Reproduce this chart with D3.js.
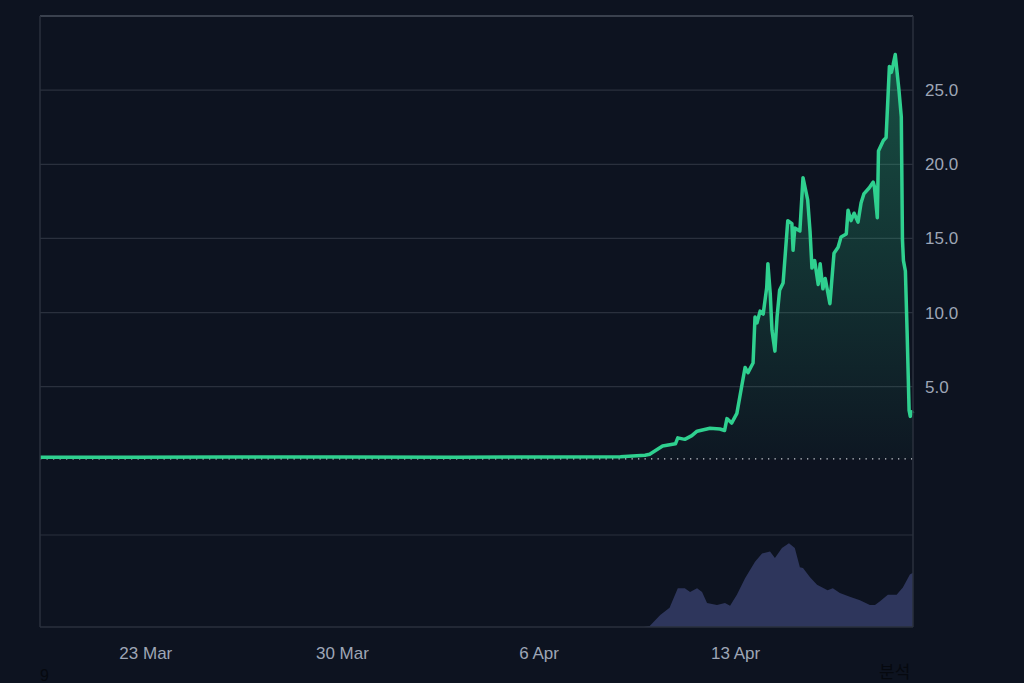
<!DOCTYPE html>
<html>
<head>
<meta charset="utf-8">
<script src="https://cdn.jsdelivr.net/npm/d3@7"></script>
<style>
  html, body { margin: 0; padding: 0; background: #0d1320; }
  svg { display: block; }
  .tick text { fill: #9ea6b6; font-family: "Liberation Sans", Arial, sans-serif; font-size: 17px; }
</style>
</head>
<body>
<script>
"use strict";

// price series (time in UTC, value)
var priceTimes = [
    "2025-03-19T06:00", "2025-03-22T12:00", "2025-03-26T00:00", "2025-03-30T00:00",
    "2025-04-03T00:00", "2025-04-06T12:00", "2025-04-08T22:00", "2025-04-09T19:00",
    "2025-04-09T23:00", "2025-04-10T10:00", "2025-04-10T21:00", "2025-04-10T23:00",
    "2025-04-11T05:00", "2025-04-11T11:00", "2025-04-11T15:30", "2025-04-12T02:30",
    "2025-04-12T11:00", "2025-04-12T15:00", "2025-04-12T17:00", "2025-04-12T21:00",
    "2025-04-13T01:30", "2025-04-13T06:00", "2025-04-13T08:30", "2025-04-13T11:00",
    "2025-04-13T15:20", "2025-04-13T17:00", "2025-04-13T18:40", "2025-04-13T21:20",
    "2025-04-14T00:00", "2025-04-14T03:00", "2025-04-14T04:00", "2025-04-14T06:00",
    "2025-04-14T07:30", "2025-04-14T10:00", "2025-04-14T11:50", "2025-04-14T14:00",
    "2025-04-14T17:00", "2025-04-14T21:00", "2025-04-15T00:30", "2025-04-15T01:30",
    "2025-04-15T03:00", "2025-04-15T07:20", "2025-04-15T10:00", "2025-04-15T14:00",
    "2025-04-15T16:00", "2025-04-15T17:40", "2025-04-15T20:00", "2025-04-15T23:00",
    "2025-04-16T00:40", "2025-04-16T03:00", "2025-04-16T05:00", "2025-04-16T09:00",
    "2025-04-16T12:30", "2025-04-16T16:00", "2025-04-16T18:30", "2025-04-16T23:00",
    "2025-04-17T00:30", "2025-04-17T03:00", "2025-04-17T05:40", "2025-04-17T09:00",
    "2025-04-17T11:40", "2025-04-17T14:00", "2025-04-17T18:30", "2025-04-17T22:00",
    "2025-04-17T23:00", "2025-04-18T01:30", "2025-04-18T02:30", "2025-04-18T06:40",
    "2025-04-18T09:00", "2025-04-18T11:50", "2025-04-18T13:30", "2025-04-18T15:00",
    "2025-04-18T16:50", "2025-04-18T19:20", "2025-04-18T20:00", "2025-04-18T22:00",
    "2025-04-18T23:00", "2025-04-18T23:50", "2025-04-19T01:30", "2025-04-19T03:00",
    "2025-04-19T04:40", "2025-04-19T05:40", "2025-04-19T07:00", "2025-04-19T08:00"
];
var priceValues = [
    0.24, 0.25, 0.26, 0.26,
    0.25, 0.26, 0.28, 0.38,
    0.45, 1.0, 1.15, 1.55,
    1.45, 1.7, 2.0, 2.2,
    2.15, 2.05, 2.85, 2.55,
    3.2, 5.2, 6.3, 5.95,
    6.6, 9.7, 9.3, 10.1,
    9.9, 11.7, 13.3, 11.3,
    8.8, 7.4, 9.7, 11.5,
    12.0, 16.2, 16.0, 14.2,
    15.7, 15.5, 19.1, 17.6,
    15.5, 13.0, 13.5, 11.9,
    13.3, 11.6, 12.3, 10.6,
    14.0, 14.4, 15.1, 15.3,
    16.9, 16.2, 16.7, 16.1,
    17.4, 18.0, 18.4, 18.8,
    18.5, 16.4, 20.9, 21.6,
    21.8, 26.6, 26.2, 26.7,
    27.4, 25.5, 25.0, 23.2,
    14.9, 13.5, 12.8, 8.6,
    3.4, 3.0, 3.3, 3.2
];

// volume series (relative units)
var volumeTimes = [
    "2025-03-19T06:00", "2025-04-09T18:00", "2025-04-09T23:00", "2025-04-10T08:00",
    "2025-04-10T16:00", "2025-04-10T23:00", "2025-04-11T05:00", "2025-04-11T09:30",
    "2025-04-11T15:30", "2025-04-11T19:45", "2025-04-12T00:00", "2025-04-12T08:30",
    "2025-04-12T15:20", "2025-04-12T19:40", "2025-04-13T01:30", "2025-04-13T08:30",
    "2025-04-13T17:00", "2025-04-13T23:00", "2025-04-14T05:50", "2025-04-14T10:00",
    "2025-04-14T16:00", "2025-04-14T22:00", "2025-04-15T03:00", "2025-04-15T07:20",
    "2025-04-15T10:00", "2025-04-15T16:00", "2025-04-15T22:00", "2025-04-16T07:00",
    "2025-04-16T11:30", "2025-04-16T17:30", "2025-04-17T02:00", "2025-04-17T10:40",
    "2025-04-17T19:10", "2025-04-17T23:30", "2025-04-18T03:50", "2025-04-18T10:30",
    "2025-04-18T18:00", "2025-04-18T23:20", "2025-04-19T05:20", "2025-04-19T08:00"
];
var volumeValues = [
    0, 0, 1, 13,
    21, 42, 42, 38,
    42, 38, 26, 24,
    26, 23, 35, 53,
    71, 80, 82, 75,
    86, 91, 86, 65,
    64, 54, 46, 40,
    42, 37, 33, 29,
    24, 24, 28, 35,
    35, 43, 57, 59
];

var priceTicks = [5, 10, 15, 20, 25];
var gridValues = [-5, 5, 10, 15, 20, 25];
var dateTicks = ["2025-03-23T00:00", "2025-03-30T00:00", "2025-04-06T00:00", "2025-04-13T00:00"];
var baseValue = 0.13;

(function() {
    var W = 1024, H = 683;
    var mLeft = 40, mRight = 913, mTop = 16, priceBottom = 535, mBottom = 627;

    var parseTime = d3.utcParse("%Y-%m-%dT%H:%M");
    var price = priceTimes.map(function(t, i) { return {date: parseTime(t), value: priceValues[i]}; });
    var volume = volumeTimes.map(function(t, i) { return {date: parseTime(t), value: volumeValues[i]}; });

    var x = d3.scaleUtc()
        .domain([parseTime("2025-03-19T06:00"), parseTime("2025-04-19T08:00")])
        .range([mLeft, mRight]);
    var y = d3.scaleLinear().domain([-5, 30]).range([priceBottom, mTop]);
    var vy = d3.scaleLinear().domain([0, 100]).range([mBottom, priceBottom]);

    var svg = d3.select("body").append("svg")
        .attr("width", W)
        .attr("height", H);

    svg.append("rect").attr("width", W).attr("height", H).attr("fill", "#0d1320");

    var grad = svg.append("defs").append("linearGradient")
        .attr("id", "priceFill")
        .attr("gradientUnits", "userSpaceOnUse")
        .attr("x1", 0).attr("x2", 0)
        .attr("y1", y(27)).attr("y2", y(0));
    grad.append("stop").attr("offset", "0%").attr("stop-color", "#2fd08f").attr("stop-opacity", 0.32);
    grad.append("stop").attr("offset", "100%").attr("stop-color", "#2fd08f").attr("stop-opacity", 0.02);

    // grid
    svg.append("g")
        .selectAll("line")
        .data(gridValues)
        .enter().append("line")
        .attr("x1", mLeft).attr("x2", mRight)
        .attr("y1", function(d) { return y(d); })
        .attr("y2", function(d) { return y(d); })
        .attr("stroke", "#2a303d")
        .attr("stroke-width", 1.2);

    // volume
    var volArea = d3.area()
        .x(function(d) { return x(d.date); })
        .y0(mBottom)
        .y1(function(d) { return vy(d.value); });

    svg.append("path")
        .datum(volume)
        .attr("fill", "#2e365c")
        .attr("d", volArea);

    // price area + line
    var priceArea = d3.area()
        .x(function(d) { return x(d.date); })
        .y0(y(baseValue))
        .y1(function(d) { return y(d.value); });

    svg.append("path")
        .datum(price)
        .attr("fill", "url(#priceFill)")
        .attr("d", priceArea);

    // dotted base line
    svg.append("line")
        .attr("x1", mLeft).attr("x2", mRight)
        .attr("y1", y(baseValue)).attr("y2", y(baseValue))
        .attr("stroke", "#c9ccd2")
        .attr("stroke-width", 1.3)
        .attr("stroke-dasharray", "1.3 5.2");

    var priceLine = d3.line()
        .x(function(d) { return x(d.date); })
        .y(function(d) { return y(d.value); });

    svg.append("path")
        .datum(price)
        .attr("fill", "none")
        .attr("stroke", "#2fd08f")
        .attr("stroke-width", 3.5)
        .attr("stroke-linejoin", "round")
        .attr("d", priceLine);

    // frame
    svg.append("line").attr("x1", mLeft).attr("x2", mRight).attr("y1", mTop).attr("y2", mTop)
        .attr("stroke", "#3a414e").attr("stroke-width", 2);
    svg.append("line").attr("x1", mLeft).attr("x2", mLeft).attr("y1", mTop).attr("y2", mBottom)
        .attr("stroke", "#2a303d").attr("stroke-width", 1.5);
    svg.append("line").attr("x1", mRight).attr("x2", mRight).attr("y1", mTop).attr("y2", mBottom)
        .attr("stroke", "#2a303d").attr("stroke-width", 1.5);
    svg.append("line").attr("x1", mLeft).attr("x2", mRight).attr("y1", mBottom).attr("y2", mBottom)
        .attr("stroke", "#2a303d").attr("stroke-width", 1.5);

    // y axis
    svg.append("g")
        .attr("class", "y axis")
        .attr("transform", "translate(" + mRight + ",0)")
        .call(d3.axisRight(y).tickValues(priceTicks).tickFormat(d3.format(".1f")).tickSize(0).tickPadding(12))
        .call(function(g) { g.select(".domain").remove(); });

    // x axis
    svg.append("g")
        .attr("class", "x axis")
        .attr("transform", "translate(0," + mBottom + ")")
        .call(d3.axisBottom(x).tickValues(dateTicks.map(parseTime)).tickFormat(d3.utcFormat("%-d %b")).tickSize(0).tickPadding(20))
        .call(function(g) { g.select(".domain").remove(); });

    // stray text at the bottom edge
    svg.append("text")
        .attr("x", 40).attr("y", 681)
        .attr("fill", "#06090f")
        .style("font-family", "Liberation Sans, Arial, sans-serif")
        .style("font-size", "16px")
        .text("9");
    svg.append("text")
        .attr("x", 879).attr("y", 678)
        .attr("fill", "#06090f")
        .style("font-family", "Noto Sans CJK KR, sans-serif")
        .style("font-size", "17px")
        .text("분석");
})();
</script>
</body>
</html>
